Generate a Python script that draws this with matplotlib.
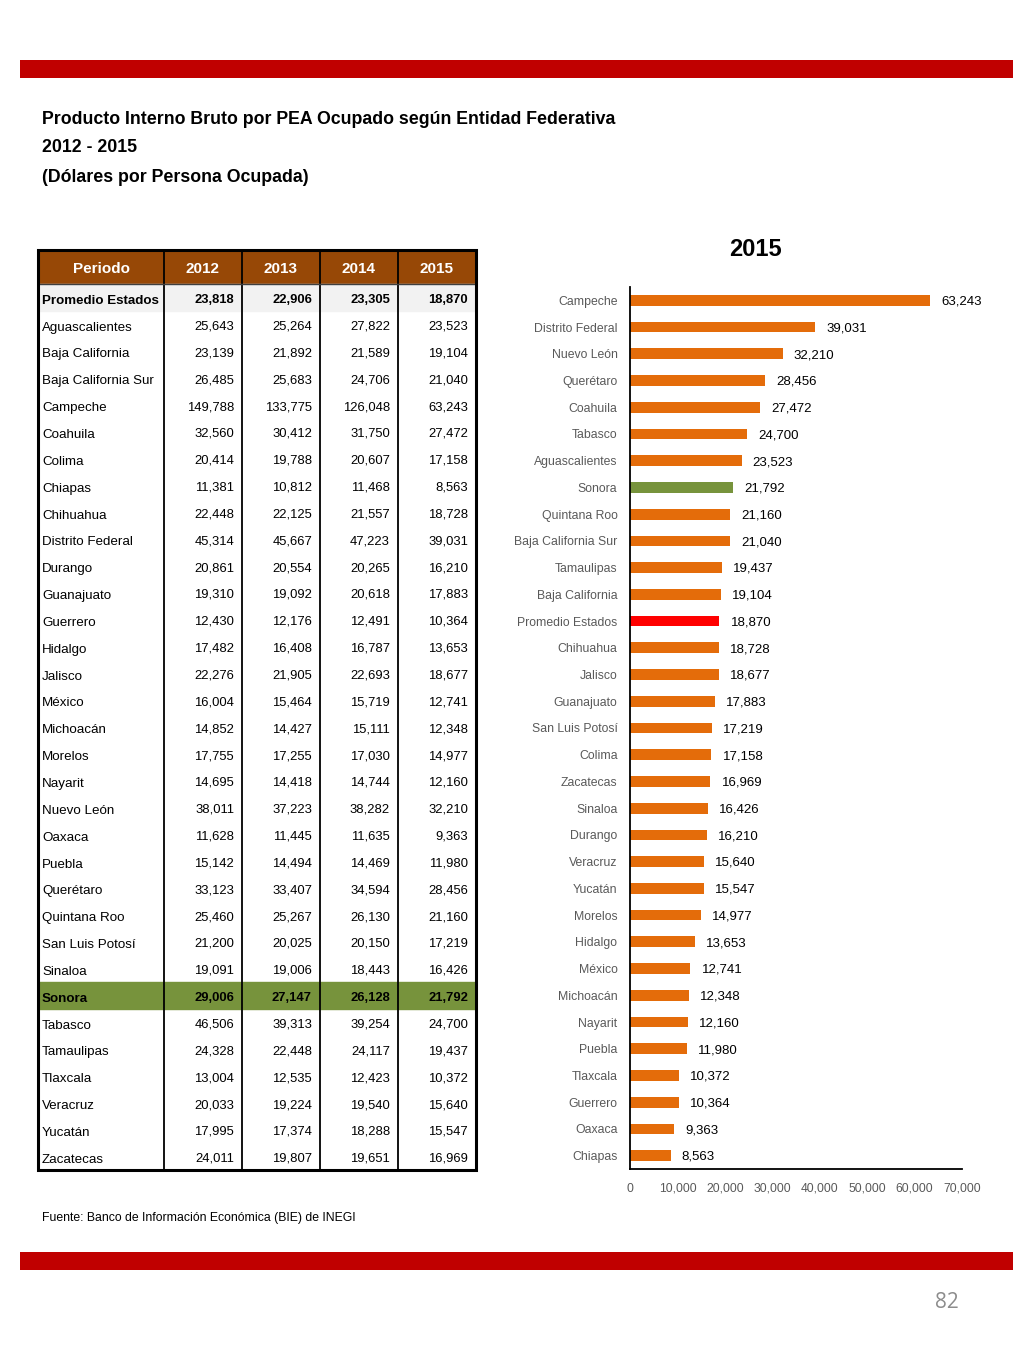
import matplotlib
matplotlib.use("Agg")
import matplotlib.pyplot as plt
from matplotlib.patches import Rectangle

plt.rcParams['font.family'] = ['Liberation Sans', 'DejaVu Sans']

# data
states = ["Promedio Estados", "Aguascalientes", "Baja California", "Baja California Sur",
          "Campeche", "Coahuila", "Colima", "Chiapas", "Chihuahua", "Distrito Federal",
          "Durango", "Guanajuato", "Guerrero", "Hidalgo", "Jalisco", "México", "Michoacán",
          "Morelos", "Nayarit", "Nuevo León", "Oaxaca", "Puebla", "Querétaro",
          "Quintana Roo", "San Luis Potosí", "Sinaloa", "Sonora", "Tabasco", "Tamaulipas",
          "Tlaxcala", "Veracruz", "Yucatán", "Zacatecas"]
v2012 = [23818, 25643, 23139, 26485, 149788, 32560, 20414, 11381, 22448, 45314, 20861,
         19310, 12430, 17482, 22276, 16004, 14852, 17755, 14695, 38011, 11628, 15142,
         33123, 25460, 21200, 19091, 29006, 46506, 24328, 13004, 20033, 17995, 24011]
v2013 = [22906, 25264, 21892, 25683, 133775, 30412, 19788, 10812, 22125, 45667, 20554,
         19092, 12176, 16408, 21905, 15464, 14427, 17255, 14418, 37223, 11445, 14494,
         33407, 25267, 20025, 19006, 27147, 39313, 22448, 12535, 19224, 17374, 19807]
v2014 = [23305, 27822, 21589, 24706, 126048, 31750, 20607, 11468, 21557, 47223, 20265,
         20618, 12491, 16787, 22693, 15719, 15111, 17030, 14744, 38282, 11635, 14469,
         34594, 26130, 20150, 18443, 26128, 39254, 24117, 12423, 19540, 18288, 19651]
v2015 = [18870, 23523, 19104, 21040, 63243, 27472, 17158, 8563, 18728, 39031, 16210,
         17883, 10364, 13653, 18677, 12741, 12348, 14977, 12160, 32210, 9363, 11980,
         28456, 21160, 17219, 16426, 21792, 24700, 19437, 10372, 15640, 15547, 16969]
headers = ["Periodo", "2012", "2013", "2014", "2015"]
highlight = "Sonora"
average = "Promedio Estados"

W, H = 1024, 1365
fig = plt.figure(figsize=(W / 100, H / 100), dpi=100)


def box(x0, y0, x1, y1):
    return [x0 / W, 1 - y1 / H, (x1 - x0) / W, (y1 - y0) / H]


# red bands
for y0 in (60, 1252):
    band = fig.add_axes(box(20, y0, 1013, y0 + 18))
    band.set_facecolor('#C00000')
    band.set_xticks([]); band.set_yticks([])
    for s in band.spines.values():
        s.set_visible(False)

# titles
for txt, y in [("Producto Interno Bruto por PEA Ocupado según Entidad Federativa", 119),
               ("2012 - 2015", 148), ("(Dólares por Persona Ocupada)", 178)]:
    fig.text(42 / W, 1 - y / H, txt, fontsize=12.8, fontweight='bold', va='center', ha='left')

fig.text(42 / W, 1 - 1218 / H, "Fuente: Banco de Información Económica (BIE) de INEGI",
         fontsize=8.8, va='center')
fig.text(947 / W, 1 - 1302 / H, "82", fontsize=15, color='#8C8C8C', va='center',
         ha='center', family=['Open Sans', 'DejaVu Sans'])

# ---- table ----
tab = fig.add_axes(box(38, 250, 476, 1170))
edges = [0, 126, 204, 282, 360, 438]
nrows = len(states)
hdr = 34 / 26.75
tab.set_xlim(0, 438)
tab.set_ylim(nrows, -hdr)
tab.axis('off')

tab.add_patch(Rectangle((0, -hdr), 438, hdr, color='#974806', zorder=0))
for i, h in enumerate(headers):
    tab.text((edges[i] + edges[i + 1]) / 2, -hdr / 2 + 0.08, h, color='white', fontsize=11,
             fontweight='bold', ha='center', va='center')

cols = [v2012, v2013, v2014, v2015]
for r, name in enumerate(states):
    bold = name in (average, highlight)
    if name == average:
        tab.add_patch(Rectangle((0, r), 438, 1, color='#F2F2F2', zorder=0))
    if name == highlight:
        tab.add_patch(Rectangle((0, r), 438, 1, color='#77933C', zorder=0))
    tab.text(4, r + 0.62, name, fontsize=9.6, ha='left', va='center',
             fontweight='bold' if bold else 'normal')
    for c, vals in enumerate(cols):
        tab.text(edges[c + 2] - 8, r + 0.58, f"{vals[r]:,}", fontsize=9.4, ha='right',
                 va='center', fontweight='bold' if bold else 'normal')

for e in edges[1:-1]:
    tab.plot([e, e], [-hdr, nrows], color='black', lw=1.3, zorder=3)
tab.plot([0, 438], [0, 0], color='#3F3F3F', lw=1, zorder=3)
tab.add_patch(Rectangle((0, -hdr), 438, nrows + hdr, fill=False, ec='black', lw=2.2,
                        zorder=4, clip_on=False))

# ---- bar chart ----
order = sorted(range(nrows), key=lambda i: v2015[i], reverse=True)
labels = [states[i] for i in order]
vals = [v2015[i] for i in order]
colors = ['#77933C' if s == highlight else '#FF0000' if s == average else '#E46C0A'
          for s in labels]

ax = fig.add_axes(box(630, 287, 962, 1169))
ypos = list(range(len(vals)))
ax.barh(ypos, vals, height=0.4, color=colors)
ax.set_ylim(len(vals) - 0.5, -0.5)
ax.set_xlim(0, 70000)
ax.set_yticks(ypos)
ax.set_yticklabels(labels, fontsize=8.8, color='#595959')
ax.set_xticks(range(0, 70001, 10000))
ax.set_xticklabels([f"{t:,}" for t in range(0, 70001, 10000)], fontsize=8.7,
                   color='#595959')
ax.tick_params(length=0)
ax.tick_params(axis='y', pad=9)
ax.tick_params(axis='x', pad=10)
for s in ('top', 'right'):
    ax.spines[s].set_visible(False)
ax.spines['left'].set_linewidth(1.3)
ax.spines['bottom'].set_linewidth(1.3)
for y, v in zip(ypos, vals):
    ax.annotate(f"{v:,}", (v, y + 0.05), xytext=(8, 0), textcoords='offset points',
                va='center', ha='left', fontsize=9.5)
fig.text(755 / W, 1 - 250 / H, "2015", fontsize=17, fontweight='bold', ha='center',
         va='center')

fig.savefig("out.png", dpi=100)
